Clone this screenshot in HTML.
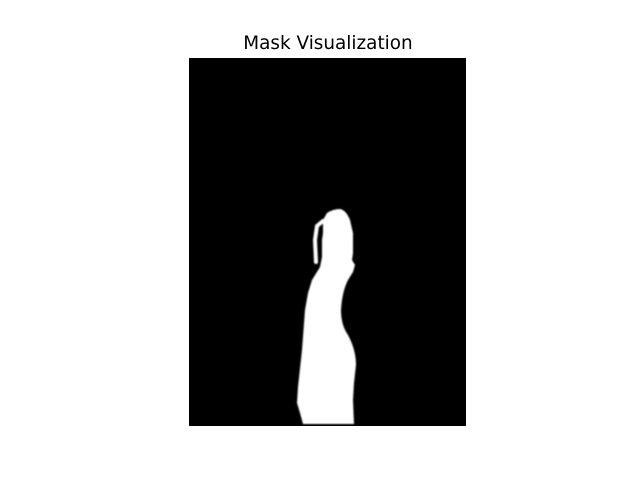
<!DOCTYPE html>
<html><head><style>body{margin:0;background:#fff}svg{display:block}</style></head>
<body>
<svg width="640" height="480" viewBox="0 0 640 480">
<text x="328" y="49" text-anchor="middle" font-family="'DejaVu Sans','Liberation Sans',sans-serif" font-size="18.4" fill="#000">Mask Visualization</text>
<rect x="189" y="58" width="277" height="368" fill="#000"/>
<defs><filter id="b"><feGaussianBlur stdDeviation="0.8"/></filter></defs>
<g filter="url(#b)" fill="#fff">
<path d="M327,213 Q333,209 340,209 Q346,210 350,220 L353,233 L353,253 L352,260 L355,265 L353,272 L348,280 Q342,292 341,310 Q341,325 348,335 Q356,350 356,365 L354,383 L353,400 L354,424 L303,424 L300,413 L297,403 L298,387 L302,350 L305,310 L308,293 L312,280 L320,267 L322,257 L322,240 L323,233 L323,220 Z"/>
<path d="M323,221 L317,226 L315,240 L316,262" fill="none" stroke="#fff" stroke-width="4" stroke-linecap="round"/>
</g>
</svg>
</body></html>
